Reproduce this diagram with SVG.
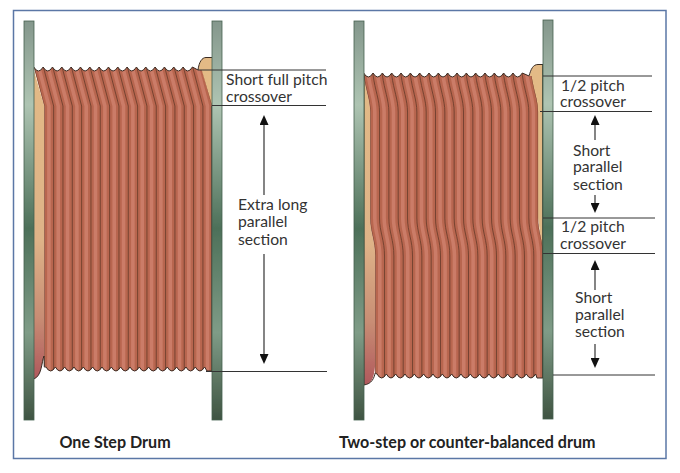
<svg xmlns="http://www.w3.org/2000/svg" xmlns:xlink="http://www.w3.org/1999/xlink" width="680" height="473" viewBox="0 0 680 473">
<style>
.t{font-family:"Lato","Open Sans","Liberation Sans",sans-serif;font-size:15.7px;fill:#333}
.c{font-family:"Lato","Open Sans","Liberation Sans",sans-serif;font-size:16.1px;font-weight:700;fill:#222}
.ln{fill:none;stroke:#6a3d2c;stroke-width:0.85}
.bd{fill:none;stroke:#cb7c67;stroke-width:3.6}
.lead{stroke:#333;stroke-width:1;fill:none}
.arr{stroke:#333;stroke-width:1.2;fill:none}
.edge{fill:none;stroke:#3a2a22;stroke-width:1}
.heavy{fill:none;stroke:#1f2a22;stroke-width:1.4}
.tan{fill:#e3ba86}
.body{fill:#b8664f}
.fl{fill:url(#fl);stroke:#46604f;stroke-width:0.8}
</style>
<defs>
<linearGradient id="fl" x1="0" y1="0" x2="0" y2="1">
<stop offset="0" stop-color="#84978c"/><stop offset="0.21" stop-color="#aec4b2"/><stop offset="0.52" stop-color="#4d7059"/><stop offset="0.78" stop-color="#7f9c87"/><stop offset="1" stop-color="#3f5442"/>
</linearGradient>
<linearGradient id="st" x1="0" y1="0" x2="0" y2="1">
<stop offset="0" stop-color="#e3ba86"/><stop offset="0.55" stop-color="#deb388"/><stop offset="0.8" stop-color="#c88d74"/><stop offset="1" stop-color="#b0585c"/>
</linearGradient>
<filter id="soft" x="-5%" y="-5%" width="110%" height="110%"><feGaussianBlur stdDeviation="0.4"/></filter>
<marker id="ah" viewBox="0 0 10 9" refX="2" refY="4.5" markerWidth="10" markerHeight="9" markerUnits="userSpaceOnUse" orient="auto-start-reverse"><polygon points="0,0 10,4.5 0,9" fill="#111"/></marker>
<path id="s1b" class="bd" d="M4.6 66L15.1 106V372"/>
<path id="s1l" class="ln" d="M0 66L10.5 106V372"/>
<path id="s2b" class="bd" d="M4.6 72V75C6.6 90 11.1 100 11.1 112V218C11.1 232 16.1 240 16.1 256V380"/>
<path id="s2l" class="ln" d="M0 72V75C2 90 6.5 100 6.5 112V218C6.5 232 11.5 240 11.5 256V380"/>
<clipPath id="c1"><path d="M33.8 67q4.67 8 9.33 0q4.67 8 9.33 0q4.67 8 9.33 0q4.67 8 9.33 0q4.67 8 9.33 0q4.67 8 9.33 0q4.67 8 9.33 0q4.67 8 9.33 0q4.67 8 9.33 0q4.67 8 9.33 0q4.67 8 9.33 0q4.67 8 9.33 0q4.67 8 9.33 0q4.67 8 9.33 0q4.67 8 9.33 0q4.67 8 9.33 0q4.67 8 9.33 0L198 70H201.7L212.2 106V371H207L204.6 367q-4.67 8 -9.33 0q-4.67 8 -9.33 0q-4.67 8 -9.33 0q-4.67 8 -9.33 0q-4.67 8 -9.33 0q-4.67 8 -9.33 0q-4.67 8 -9.33 0q-4.67 8 -9.33 0q-4.67 8 -9.33 0q-4.67 8 -9.33 0q-4.67 8 -9.33 0q-4.67 8 -9.33 0q-4.67 8 -9.33 0q-4.67 8 -9.33 0q-4.67 8 -9.33 0q-4.67 8 -9.33 0q-4.67 8 -9.33 0L44.3 366V106Z"/></clipPath>
<clipPath id="c2"><path d="M363.7 73q4.67 8 9.33 0q4.67 8 9.33 0q4.67 8 9.33 0q4.67 8 9.33 0q4.67 8 9.33 0q4.67 8 9.33 0q4.67 8 9.33 0q4.67 8 9.33 0q4.67 8 9.33 0q4.67 8 9.33 0q4.67 8 9.33 0q4.67 8 9.33 0q4.67 8 9.33 0q4.67 8 9.33 0q4.67 8 9.33 0q4.67 8 9.33 0q4.67 8 9.33 0L529 76H531.6C533.6 90 538.1 100 538.1 112V218C538.1 232 543.1 240 543.1 256V378H537L535.6 374q-4.67 8 -9.33 0q-4.67 8 -9.33 0q-4.67 8 -9.33 0q-4.67 8 -9.33 0q-4.67 8 -9.33 0q-4.67 8 -9.33 0q-4.67 8 -9.33 0q-4.67 8 -9.33 0q-4.67 8 -9.33 0q-4.67 8 -9.33 0q-4.67 8 -9.33 0q-4.67 8 -9.33 0q-4.67 8 -9.33 0q-4.67 8 -9.33 0q-4.67 8 -9.33 0q-4.67 8 -9.33 0q-4.67 8 -9.33 0L375.2 373V256C375.2 240 370.2 232 370.2 218V112C370.2 100 365.7 90 363.7 75Z"/></clipPath>
</defs>
<rect id="frame" x="13.5" y="10.5" width="652.5" height="448" fill="#fff" stroke="#5b77a6" stroke-width="1.5"/>
<g id="drum-one" filter="url(#soft)">
<path d="M33.8 70L44.3 106V356C41.5 362 42 376 33.8 379Z" fill="url(#st)"/>
<path class="tan" d="M198 70C199 62 202 57.5 206 57.5H212V106Z"/>
<g clip-path="url(#c1)">
<rect class="body" x="30" y="60" width="190" height="320"/>
<g id="wraps1">
<use xlink:href="#s1b" x="33.8"/><use xlink:href="#s1b" x="43.13"/><use xlink:href="#s1b" x="52.46"/><use xlink:href="#s1b" x="61.79"/><use xlink:href="#s1b" x="71.12"/><use xlink:href="#s1b" x="80.45"/><use xlink:href="#s1b" x="89.78"/><use xlink:href="#s1b" x="99.11"/><use xlink:href="#s1b" x="108.44"/><use xlink:href="#s1b" x="117.77"/><use xlink:href="#s1b" x="127.1"/><use xlink:href="#s1b" x="136.43"/><use xlink:href="#s1b" x="145.76"/><use xlink:href="#s1b" x="155.09"/><use xlink:href="#s1b" x="164.42"/><use xlink:href="#s1b" x="173.75"/><use xlink:href="#s1b" x="183.08"/><use xlink:href="#s1b" x="192.41"/>
<use xlink:href="#s1l" x="33.8"/><use xlink:href="#s1l" x="43.13"/><use xlink:href="#s1l" x="52.46"/><use xlink:href="#s1l" x="61.79"/><use xlink:href="#s1l" x="71.12"/><use xlink:href="#s1l" x="80.45"/><use xlink:href="#s1l" x="89.78"/><use xlink:href="#s1l" x="99.11"/><use xlink:href="#s1l" x="108.44"/><use xlink:href="#s1l" x="117.77"/><use xlink:href="#s1l" x="127.1"/><use xlink:href="#s1l" x="136.43"/><use xlink:href="#s1l" x="145.76"/><use xlink:href="#s1l" x="155.09"/><use xlink:href="#s1l" x="164.42"/><use xlink:href="#s1l" x="173.75"/><use xlink:href="#s1l" x="183.08"/><use xlink:href="#s1l" x="192.41"/><use xlink:href="#s1l" x="201.74"/>
</g>
</g>
<path class="edge" d="M33.8 67q4.67 8 9.33 0q4.67 8 9.33 0q4.67 8 9.33 0q4.67 8 9.33 0q4.67 8 9.33 0q4.67 8 9.33 0q4.67 8 9.33 0q4.67 8 9.33 0q4.67 8 9.33 0q4.67 8 9.33 0q4.67 8 9.33 0q4.67 8 9.33 0q4.67 8 9.33 0q4.67 8 9.33 0q4.67 8 9.33 0q4.67 8 9.33 0q4.67 8 9.33 0L198 70C199 62 202 57.5 206 57.5H212"/>
<path class="edge" d="M212 371H207L204.6 367q-4.67 8 -9.33 0q-4.67 8 -9.33 0q-4.67 8 -9.33 0q-4.67 8 -9.33 0q-4.67 8 -9.33 0q-4.67 8 -9.33 0q-4.67 8 -9.33 0q-4.67 8 -9.33 0q-4.67 8 -9.33 0q-4.67 8 -9.33 0q-4.67 8 -9.33 0q-4.67 8 -9.33 0q-4.67 8 -9.33 0q-4.67 8 -9.33 0q-4.67 8 -9.33 0q-4.67 8 -9.33 0q-4.67 8 -9.33 0L44.3 367L44 356C41.5 362 42 376 33.8 379"/>
<path class="heavy" d="M212.2 106V371"/>
<rect class="fl" x="24" y="21" width="10" height="399"/>
<rect class="fl" x="212" y="21" width="10" height="399"/>
</g>
<g id="drum-two" filter="url(#soft)">
<path d="M363.7 72V75C365.7 90 370.2 100 370.2 112V218C370.2 232 375.2 240 375.2 256V365C374 378 372 384 363.7 385Z" fill="url(#st)"/>
<path class="tan" d="M529.5 76C531 69 533 64.5 538 64.5H543V256L538 218V112Z"/>
<g clip-path="url(#c2)">
<rect class="body" x="360" y="66" width="190" height="320"/>
<g id="wraps2">
<use xlink:href="#s2b" x="363.7"/><use xlink:href="#s2b" x="373.03"/><use xlink:href="#s2b" x="382.36"/><use xlink:href="#s2b" x="391.69"/><use xlink:href="#s2b" x="401.02"/><use xlink:href="#s2b" x="410.35"/><use xlink:href="#s2b" x="419.68"/><use xlink:href="#s2b" x="429.01"/><use xlink:href="#s2b" x="438.34"/><use xlink:href="#s2b" x="447.67"/><use xlink:href="#s2b" x="457"/><use xlink:href="#s2b" x="466.33"/><use xlink:href="#s2b" x="475.66"/><use xlink:href="#s2b" x="484.99"/><use xlink:href="#s2b" x="494.32"/><use xlink:href="#s2b" x="503.65"/><use xlink:href="#s2b" x="512.98"/><use xlink:href="#s2b" x="522.31"/>
<use xlink:href="#s2l" x="363.7"/><use xlink:href="#s2l" x="373.03"/><use xlink:href="#s2l" x="382.36"/><use xlink:href="#s2l" x="391.69"/><use xlink:href="#s2l" x="401.02"/><use xlink:href="#s2l" x="410.35"/><use xlink:href="#s2l" x="419.68"/><use xlink:href="#s2l" x="429.01"/><use xlink:href="#s2l" x="438.34"/><use xlink:href="#s2l" x="447.67"/><use xlink:href="#s2l" x="457"/><use xlink:href="#s2l" x="466.33"/><use xlink:href="#s2l" x="475.66"/><use xlink:href="#s2l" x="484.99"/><use xlink:href="#s2l" x="494.32"/><use xlink:href="#s2l" x="503.65"/><use xlink:href="#s2l" x="512.98"/><use xlink:href="#s2l" x="522.31"/><use xlink:href="#s2l" x="531.64"/>
</g>
</g>
<path class="edge" d="M363.7 73q4.67 8 9.33 0q4.67 8 9.33 0q4.67 8 9.33 0q4.67 8 9.33 0q4.67 8 9.33 0q4.67 8 9.33 0q4.67 8 9.33 0q4.67 8 9.33 0q4.67 8 9.33 0q4.67 8 9.33 0q4.67 8 9.33 0q4.67 8 9.33 0q4.67 8 9.33 0q4.67 8 9.33 0q4.67 8 9.33 0q4.67 8 9.33 0q4.67 8 9.33 0L529 76C531 69 533 64.5 538 64.5H543"/>
<path class="edge" d="M543 378H537L535.6 374q-4.67 8 -9.33 0q-4.67 8 -9.33 0q-4.67 8 -9.33 0q-4.67 8 -9.33 0q-4.67 8 -9.33 0q-4.67 8 -9.33 0q-4.67 8 -9.33 0q-4.67 8 -9.33 0q-4.67 8 -9.33 0q-4.67 8 -9.33 0q-4.67 8 -9.33 0q-4.67 8 -9.33 0q-4.67 8 -9.33 0q-4.67 8 -9.33 0q-4.67 8 -9.33 0q-4.67 8 -9.33 0q-4.67 8 -9.33 0L375.2 373C374 378 372 384 363.7 385"/>
<path class="heavy" d="M543 64V378M363.7 75V385"/>
<rect class="fl" x="354" y="21" width="10" height="399"/>
<rect class="fl" x="543" y="20" width="10" height="399"/>
</g>
<g id="connectors">
<line class="lead" x1="198" y1="70" x2="326" y2="70"/>
<line class="lead" x1="212" y1="105.5" x2="326" y2="105.5"/>
<line class="lead" x1="206" y1="371.5" x2="327" y2="371.5"/>
<line class="lead" x1="543" y1="76" x2="652" y2="76"/>
<line class="lead" x1="540" y1="111.5" x2="652" y2="111.5"/>
<line class="lead" x1="543" y1="218" x2="655" y2="218"/>
<line class="lead" x1="543" y1="253.5" x2="655" y2="253.5"/>
<line class="lead" x1="553" y1="375" x2="655" y2="375"/>
<line class="arr" x1="264" y1="195" x2="264" y2="123" marker-end="url(#ah)"/>
<line class="arr" x1="264" y1="254" x2="264" y2="356" marker-end="url(#ah)"/>
<line class="arr" x1="595" y1="140" x2="595" y2="123" marker-end="url(#ah)"/>
<line class="arr" x1="595" y1="195" x2="595" y2="205" marker-end="url(#ah)"/>
<line class="arr" x1="595" y1="290" x2="595" y2="268" marker-end="url(#ah)"/>
<line class="arr" x1="595" y1="344" x2="595" y2="360" marker-end="url(#ah)"/>
</g>
<g id="labels">
<text class="t" x="226" y="85">Short full pitch</text>
<text class="t" x="226" y="101.7">crossover</text>
<text class="t" x="238" y="210">Extra long</text>
<text class="t" x="238" y="227">parallel</text>
<text class="t" x="238" y="245">section</text>
<text class="t" x="561" y="90.7">1/2 pitch</text>
<text class="t" x="560" y="107.3">crossover</text>
<text class="t" x="573" y="155.7">Short</text>
<text class="t" x="573" y="172.3">parallel</text>
<text class="t" x="573" y="190">section</text>
<text class="t" x="561" y="232">1/2 pitch</text>
<text class="t" x="560" y="249.3">crossover</text>
<text class="t" x="575" y="302.7">Short</text>
<text class="t" x="575" y="320">parallel</text>
<text class="t" x="575" y="337.3">section</text>
<text class="c" x="59.5" y="448">One Step Drum</text>
<text class="c" x="339" y="448">Two-step or counter-balanced drum</text>
</g>
</svg>
